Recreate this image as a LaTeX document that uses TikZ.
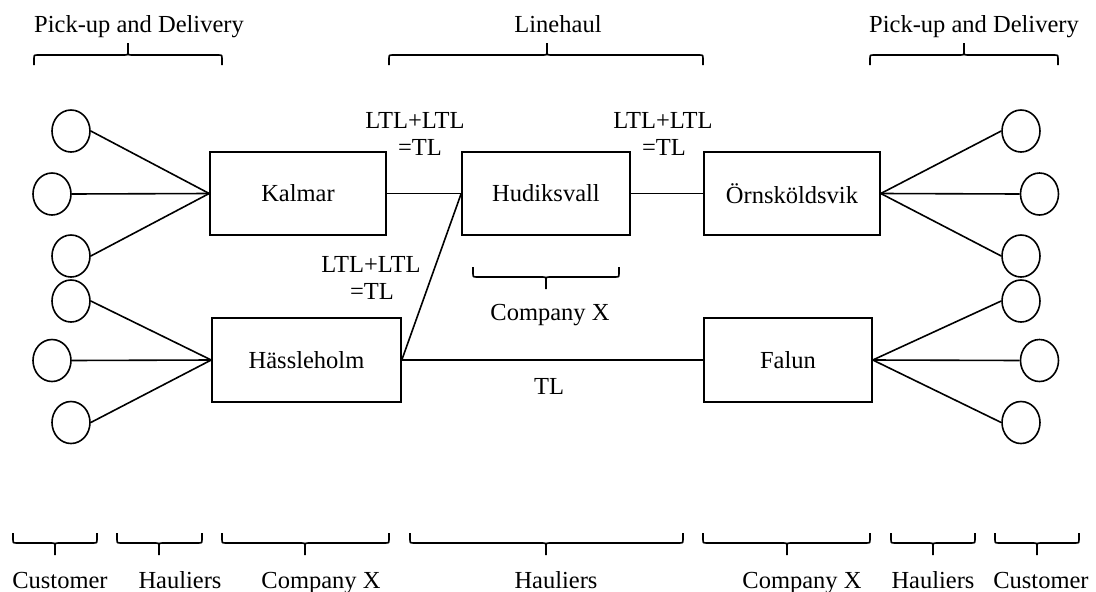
\documentclass[tikz,border=0pt]{standalone}
\usepackage{fontspec}
\setmainfont{Liberation Serif}
\usetikzlibrary{shapes.geometric}

% flat brace: #1 left x, #2 right x, #3 tip x, #4 bar y, #5 +1 = tip up, -1 = tip down
\newcommand\flatbrace[5]{%
  \draw[bracestyle]
    (#1,{#4+10*(#5)}) -- (#1,{#4+3*(#5)}) .. controls (#1,#4) .. ({#1+3},#4)
    -- ({#3-3},#4) .. controls (#3,#4) .. (#3,{#4-3*(#5)}) -- (#3,{#4-12*(#5)})
    (#2,{#4+10*(#5)}) -- (#2,{#4+3*(#5)}) .. controls (#2,#4) .. ({#2-3},#4)
    -- ({#3+3},#4) .. controls (#3,#4) .. (#3,{#4-3*(#5)});
}

\tikzset{
  every node/.style={font=\fontsize{24.5}{27}\selectfont},
  site/.style={draw, line width=1.6pt, rectangle, inner sep=0pt, minimum height=83pt},
  cust/.style={draw, line width=1.6pt, ellipse, inner sep=0pt, minimum width=38pt, minimum height=42pt},
  link/.style={line width=1.6pt},
  bracestyle/.style={line width=1.6pt, line join=round},
  lbl/.style={anchor=base, inner sep=0pt},
}

\begin{document}
\begin{tikzpicture}[x=1pt, y=-1pt]
\useasboundingbox (0,0) rectangle (1096,592);

% terminals
\node[site, minimum width=176pt] (kal) at (298,193.5) {Kalmar};
\node[site, minimum width=168pt] (hud) at (546,193.5) {Hudiksvall};
\node[site, minimum width=176pt] (orn) at (792,193.5) {Örnsköldsvik};
\node[site, minimum width=189pt, minimum height=84pt] (has) at (306.5,360) {Hässleholm};
\node[site, minimum width=168pt, minimum height=84pt] (fal) at (788,360) {Falun};

% customers, left
\node[cust] (l1) at (71,131) {};
\node[cust] (l2) at (52,194) {};
\node[cust] (l3) at (71,256) {};
\node[cust] (l4) at (71,301) {};
\node[cust] (l5) at (52,360.5) {};
\node[cust] (l6) at (71,422.5) {};
% customers, right
\node[cust] (r1) at (1021,131) {};
\node[cust] (r2) at (1039.5,194) {};
\node[cust] (r3) at (1021,256) {};
\node[cust] (r4) at (1021,301) {};
\node[cust] (r5) at (1039.5,360.5) {};
\node[cust] (r6) at (1021,422.5) {};

% pick-up and delivery links
\foreach \c in {l1,l2,l3} \draw[link] (\c.east) -- (kal.west);
\foreach \c in {l4,l5,l6} \draw[link] (\c.east) -- (has.west);
\foreach \c in {r1,r2,r3} \draw[link] (\c.west) -- (orn.east);
\foreach \c in {r4,r5,r6} \draw[link] (\c.west) -- (fal.east);

% linehaul links
\draw[link] (kal.east) -- (hud.west);
\draw[link] (has.east) -- (hud.west);
\draw[link] (hud.east) -- (orn.west);
\draw[link] (has.east) -- (fal.west);

% link labels
\node[lbl] (ka1) at (415,128) {LTL+LTL};
\node[lbl] (ka2) at (420,155) {=TL};
\node[lbl] (ho1) at (663,128) {LTL+LTL};
\node[lbl] (ho2) at (664,155) {=TL};
\node[lbl] (hh1) at (371,272) {LTL+LTL};
\node[lbl] (hh2) at (372,299) {=TL};
\node[lbl] (hf) at (549,394) {TL};

% headings
\node[lbl] (pdl) at (139,32) {Pick-up and Delivery};
\node[lbl] (lh) at (558,32) {Linehaul};
\node[lbl] (pdr) at (974,32) {Pick-up and Delivery};
\flatbrace{34}{222}{128}{55}{1}
\flatbrace{389}{703}{547}{55}{1}
\flatbrace{870}{1058}{964}{55}{1}

% terminal operator
\flatbrace{473}{619}{546}{277}{-1}
\node[lbl] (cxm) at (550,320) {Company X};

% responsibilities
\flatbrace{13}{97}{55}{543}{-1}
\flatbrace{117}{202}{159}{543}{-1}
\flatbrace{222}{389}{305}{543}{-1}
\flatbrace{410}{683}{546}{543}{-1}
\flatbrace{703}{870}{787}{543}{-1}
\flatbrace{891}{975}{933}{543}{-1}
\flatbrace{995}{1079}{1037}{543}{-1}
\node[lbl] (b1) at (60,588) {Customer};
\node[lbl] (b2) at (180,588) {Hauliers};
\node[lbl] (b3) at (321,588) {Company X};
\node[lbl] (b4) at (556,588) {Hauliers};
\node[lbl] (b5) at (802,588) {Company X};
\node[lbl] (b6) at (933,588) {Hauliers};
\node[lbl] (b7) at (1041,588) {Customer};
\end{tikzpicture}
\end{document}
